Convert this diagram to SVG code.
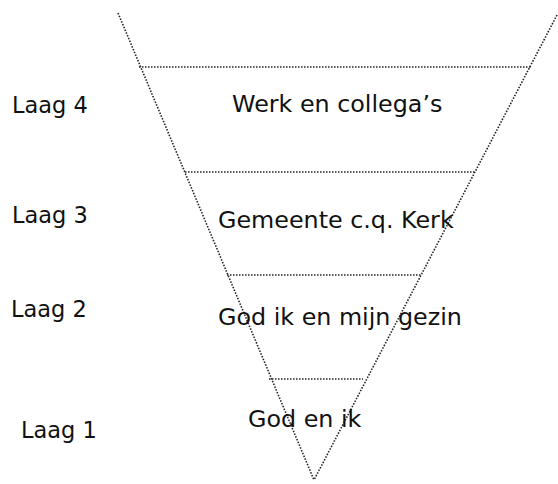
<svg xmlns="http://www.w3.org/2000/svg" width="558" height="484" viewBox="0 0 558 484">
<style>
.dot{stroke:#222;stroke-width:1.6;stroke-dasharray:1.5 1.5;fill:none}
text{font-family:"DejaVu Sans","Verdana",sans-serif;font-size:22.5px;fill:#111}
.in{font-size:23.8px}
</style>
<rect width="558" height="484" fill="#fff"/>
<g id="connectors">
<line class="dot" x1="118" y1="13" x2="314" y2="480"/>
<line class="dot" x1="557" y1="15" x2="314" y2="480"/>
<line class="dot" x1="139" y1="67" x2="532" y2="67"/>
<line class="dot" x1="185" y1="172" x2="476" y2="172"/>
<line class="dot" x1="227" y1="275" x2="422" y2="275"/>
<line class="dot" x1="269" y1="379" x2="363" y2="379"/>
</g>
<g id="laag4"><text x="12" y="113">Laag 4</text><text class="in" x="232" y="112">Werk en collega’s</text></g>
<g id="laag3"><text x="12" y="223">Laag 3</text><text class="in" x="218" y="228">Gemeente c.q. Kerk</text></g>
<g id="laag2"><text x="11" y="317">Laag 2</text><text class="in" x="218" y="325">God ik en mijn gezin</text></g>
<g id="laag1"><text x="21" y="438">Laag 1</text><text class="in" x="248" y="427">God en ik</text></g>
</svg>
